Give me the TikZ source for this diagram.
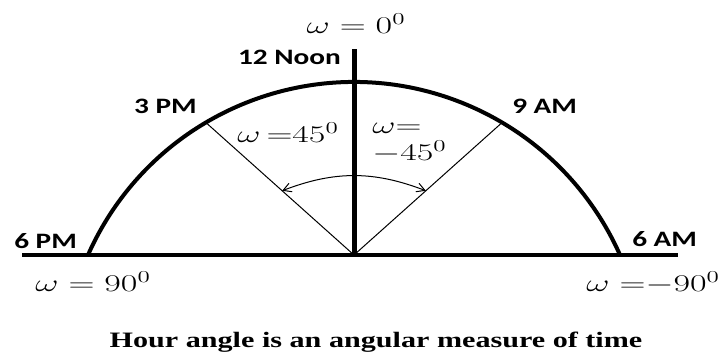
\documentclass[tikz,border=0pt]{standalone}
\usepackage{fontspec}
\newfontfamily\hourfont{Carlito}
\newfontfamily\captionfont{Liberation Serif}
\usepackage{tikz}
\usetikzlibrary{arrows.meta,calc}

\begin{document}
\begin{tikzpicture}[x=1pt,y=1pt,
hour/.style={font=\hourfont\bfseries\fontsize{22}{26}\selectfont,inner sep=0pt,xscale=1.33,transform shape},
omega/.style={font=\fontsize{20.74}{25}\selectfont,inner sep=0pt,xscale=1.736,yscale=1.157,transform shape},
thickline/.style={line width=4pt},
ray/.style={line width=1pt},
swing/.style={{Straight Barb[length=8pt,width=9pt]}-{Straight Barb[length=8pt,width=9pt]},line width=1pt}]
\useasboundingbox (0,0) rectangle (721,360);
% horizon, meridian and sky arc
\coordinate (c) at (354,105);
\coordinate (o) at (354,-13);
\coordinate (west) at (22,105);
\coordinate (east) at (678,105);
\coordinate (zenith) at (354,311);
\coordinate (pm6) at ($(o)+(156.08:291)$);
\coordinate (pm3) at ($(o)+(120.6:291)$);
\coordinate (am9) at ($(o)+(59.4:291)$);
\draw[thickline] (pm6) arc[start angle=156.08,end angle=23.92,radius=291pt];
\draw[line width=4.5pt] (west) -- (east);
\draw[line width=5pt] (c) -- (zenith);
\draw[ray] (c) -- (pm3);
\draw[ray] (c) -- (am9);
\coordinate (swl) at ($(c)!0.485!(pm3)$);
\coordinate (swr) at ($(c)!0.485!(am9)$);
\draw[swing] (swl) to[bend left=21] (swr);
% labels
\node[omega,anchor=base] (w0) at (356,327) {$\omega = 0^0$};
\node[hour,anchor=base east] (noon) at (341,296) {12 Noon};
\node[hour,anchor=base east] (l3pm) at (197,247) {3 PM};
\node[hour,anchor=base west] (l9am) at (512,247) {9 AM};
\node[hour,anchor=base west] (l6pm) at (14,112) {6 PM};
\node[hour,anchor=base west] (l6am) at (632,114) {6 AM};
\node[omega,anchor=base west] (w90) at (35,69) {$\omega = 90^0$};
\node[omega,anchor=base east] (wm90) at (720,69) {$\omega\;{=}{-}90^0$};
\node[omega,anchor=base west] (w45) at (237,218) {$\omega\,{=}45^0$};
\node[omega,anchor=base west] (wm45a) at (372,227) {$\omega{=}$};
\node[omega,anchor=base west] (wm45b) at (372,200) {${-}45^0$};
\node[font=\captionfont\bfseries\fontsize{22}{26}\selectfont,inner sep=0pt,xscale=1.37,transform shape,anchor=base] (cap) at (376,13) {Hour angle is an angular measure of time};
\end{tikzpicture}
\end{document}
